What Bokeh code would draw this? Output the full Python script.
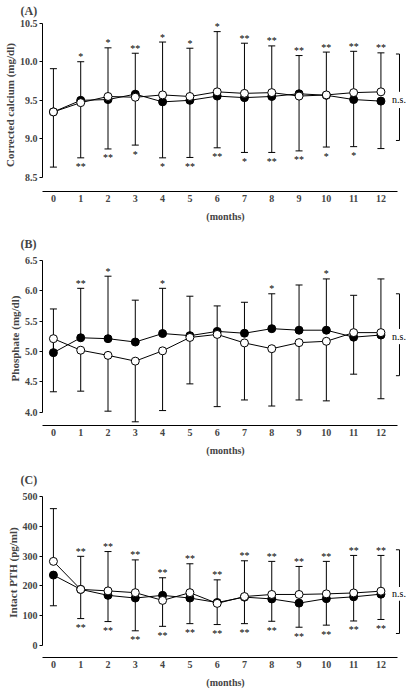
from bokeh.plotting import figure
from bokeh.models import Range1d, FixedTicker
from bokeh.layouts import column
from bokeh.embed import file_html
from bokeh.resources import INLINE
from bokeh.core.properties import value

# ---------------- data ----------------
months = list(range(13))
month_labels = [str(m) for m in months]

# (A) corrected calcium, mg/dl
ca_open = [9.35, 9.47, 9.55, 9.54, 9.57, 9.55, 9.61, 9.59, 9.60, 9.555, 9.57, 9.60, 9.61]
ca_filled = [9.35, 9.50, 9.51, 9.58, 9.48, 9.50, 9.555, 9.535, 9.55, 9.585, 9.565, 9.51, 9.49]
ca_upper = [9.91, 10.00, 10.18, 10.11, 10.255, 10.175, 10.39, 10.24, 10.205, 10.08, 10.125, 10.135, 10.115]
ca_lower = [8.635, 8.755, 8.87, 8.92, 8.755, 8.76, 8.885, 8.825, 8.825, 8.845, 8.895, 8.90, 8.875]
ca_sig_up = ["", "*", "*", "**", "*", "*", "*", "**", "**", "**", "**", "**", "**"]
ca_sig_dn = ["", "**", "**", "*", "*", "**", "**", "*", "**", "**", "*", "*", ""]
ca_ticks = [8.5, 9.0, 9.5, 10.0, 10.5]
ca_tick_labels = ["8.5", "9.0", "9.5", "10.0", "10.5"]
ca_bracket = [10.10, 9.61, 9.40, 8.98]

# (B) phosphate, mg/dl
ph_open = [5.21, 5.02, 4.935, 4.84, 5.01, 5.23, 5.28, 5.14, 5.045, 5.145, 5.167, 5.31, 5.31]
ph_filled = [4.98, 5.225, 5.21, 5.155, 5.295, 5.26, 5.33, 5.30, 5.375, 5.35, 5.35, 5.235, 5.27]
ph_upper = [5.70, 6.04, 6.24, 5.845, 6.04, 5.91, 5.75, 5.81, 5.95, 6.095, 6.195, 5.925, 6.195]
ph_lower = [4.335, 4.345, 4.015, 3.84, 4.025, 4.465, 4.09, 4.20, 4.10, 4.20, 4.185, 4.625, 4.22]
ph_sig_up = ["", "**", "*", "", "*", "", "", "", "*", "", "*", "", ""]
ph_sig_dn = [""] * 13
ph_ticks = [4.0, 4.5, 5.0, 5.5, 6.0, 6.5]
ph_tick_labels = ["4.0", "4.5", "5.0", "5.5", "6.0", "6.5"]
ph_bracket = [5.95, 5.37, 5.12, 4.60]

# (C) intact PTH, pg/ml
pth_open = [282, 188, 183, 177, 151, 177, 141, 164, 171, 171, 173, 176, 182]
pth_filled = [236, 188, 168, 159, 168, 159, 144, 162, 156, 142, 157, 163, 172]
pth_upper = [459, 299, 315, 287, 227, 274, 220, 284, 282, 265, 282, 302, 302]
pth_lower = [133, 90, 80, 49, 64, 73, 70, 73, 81, 61, 68, 82, 87]
pth_sig_up = [""] + ["**"] * 12
pth_sig_dn = [""] + ["**"] * 12
pth_ticks = [0, 100, 200, 300, 400, 500]
pth_tick_labels = ["0", "100", "200", "300", "400", "500"]
pth_bracket = [321, 196, 150, 40]

SERIF = "Liberation Serif"
W = 408
X_RANGE = (-0.4, 13.01)


def panel(title, ylabel, yr, ybounds, yticks, ytick_labels, open_mean, filled_mean,
          upper, upper_from, lower, lower_from, sig_up, sig_dn, bracket,
          height, top, bottom):
    p = figure(width=W, height=height, x_range=Range1d(*X_RANGE), y_range=Range1d(*yr),
               output_backend="svg", toolbar_location=None,
               min_border_left=37, min_border_right=0,
               min_border_top=top, min_border_bottom=bottom)
    p.outline_line_color = None
    p.grid.visible = False

    p.title.text = title
    p.title.text_font = SERIF
    p.title.text_font_style = "bold"
    p.title.text_font_size = "12px"
    p.title.align = "left"
    p.title.offset = -22
    p.title.standoff = 2

    xa = p.xaxis[0]
    xa.ticker = FixedTicker(ticks=months)
    xa.major_label_overrides = {m: l for m, l in zip(months, month_labels)}
    xa.bounds = (-0.4, 12.62)
    xa.major_tick_out = 0
    xa.major_tick_in = 0
    xa.minor_tick_out = 0
    xa.minor_tick_in = 0
    xa.major_label_standoff = 3
    xa.major_label_text_font = SERIF
    xa.major_label_text_font_style = "bold"
    xa.major_label_text_font_size = "10px"
    xa.axis_label = "(months)"
    xa.axis_label_text_font = SERIF
    xa.axis_label_text_font_style = "bold"
    xa.axis_label_text_font_size = "10px"
    xa.axis_label_standoff = 6
    xa.axis_line_width = 1

    ya = p.yaxis[0]
    ya.ticker = FixedTicker(ticks=yticks)
    ya.major_label_overrides = {t: l for t, l in zip(yticks, ytick_labels)}
    ya.bounds = ybounds
    ya.major_tick_out = 3
    ya.major_tick_in = 0
    ya.minor_tick_out = 0
    ya.minor_tick_in = 0
    ya.major_label_standoff = 2
    ya.major_label_text_font = SERIF
    ya.major_label_text_font_style = "bold"
    ya.major_label_text_font_size = "10px"
    ya.axis_label = ylabel
    ya.axis_label_text_font = SERIF
    ya.axis_label_text_font_style = "bold"
    ya.axis_label_text_font_size = "11px"
    ya.axis_label_standoff = 1

    # error bars (one-sided)
    p.segment(x0=months, y0=upper_from, x1=months, y1=upper, line_color="black", line_width=1)
    p.segment(x0=months, y0=lower_from, x1=months, y1=lower, line_color="black", line_width=1)
    p.scatter(months, upper, marker="dash", size=7, line_color="black", line_width=1)
    p.scatter(months, lower, marker="dash", size=7, line_color="black", line_width=1)

    # lines and markers
    p.line(months, filled_mean, line_color="black", line_width=1)
    p.line(months, open_mean, line_color="black", line_width=1)
    p.scatter(months, filled_mean, marker="circle", size=8, fill_color="black", line_color="black")
    p.scatter(months, open_mean, marker="circle", size=8, fill_color="white", line_color="black", line_width=1)

    # significance marks
    p.text(x=months, y=upper, text=sig_up, text_font=value(SERIF), text_font_size="10px",
           text_align="center", text_baseline="middle", y_offset=-5, text_color="black")
    p.text(x=months, y=lower, text=sig_dn, text_font=value(SERIF), text_font_size="10px",
           text_align="center", text_baseline="middle", y_offset=9, text_color="black")

    # n.s. bracket
    bx, tx = 12.68, 12.55
    p.segment(x0=[bx, bx, tx, tx], y0=[bracket[0], bracket[2], bracket[0], bracket[3]],
              x1=[bx, bx, bx, bx], y1=[bracket[1], bracket[3], bracket[0], bracket[3]],
              line_color="black", line_width=1)
    p.text(x=[12.66], y=[(bracket[1] + bracket[2]) / 2], text=["n.s."], text_font=value(SERIF),
           text_font_size="10px", text_align="center", text_baseline="middle")
    return p


pA = panel("(A)", "Corrected calcium (mg/dl)", (8.319, 10.56), (8.5, 10.5), ca_ticks, ca_tick_labels,
           ca_open, ca_filled, ca_upper, ca_open, ca_lower, ca_filled, ca_sig_up, ca_sig_dn,
           ca_bracket, 224, 16, 33)
pB = panel("(B)", "Phosphate (mg/dl)", (3.779, 6.647), (4.0, 6.5), ph_ticks, ph_tick_labels,
           ph_open, ph_filled, ph_upper, ph_filled, ph_lower, ph_open, ph_sig_up, ph_sig_dn,
           ph_bracket, 234, 27, 29)
pC = panel("(C)", "Intact PTH (pg/ml)", (-40.6, 530), (0, 500), pth_ticks, pth_tick_labels,
           pth_open, pth_filled, pth_upper, pth_open, pth_lower, pth_filled, pth_sig_up, pth_sig_dn,
           pth_bracket, 232, 29, 26)

layout = column(pA, pB, pC, spacing=0)
open("out.html", "w").write(file_html(layout, INLINE))
